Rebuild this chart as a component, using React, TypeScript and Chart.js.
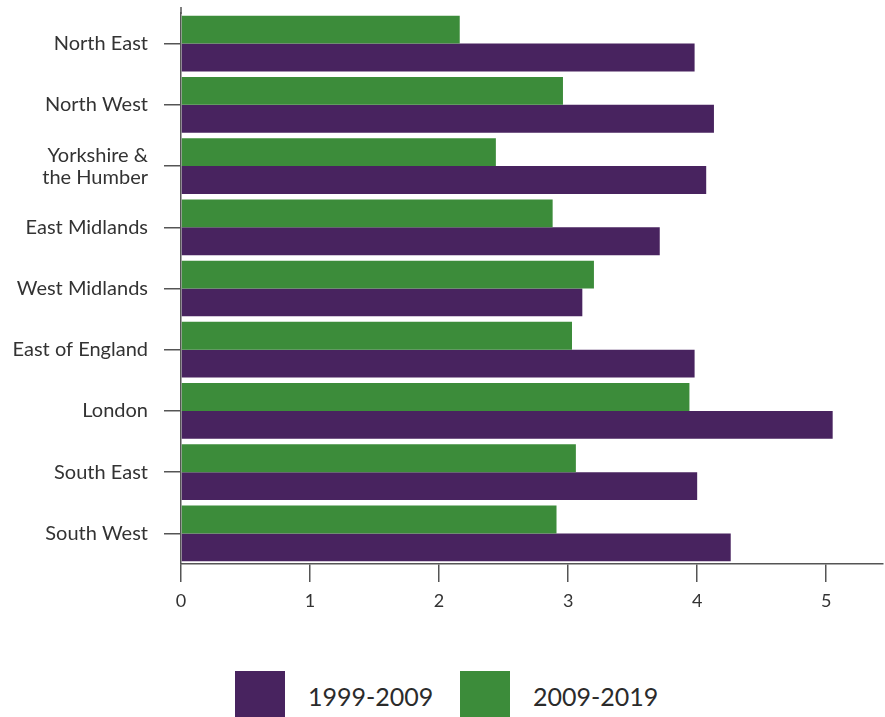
import React, { useEffect, useRef } from "react";
import { Chart, registerables } from "chart.js";

Chart.register(...registerables);

const categories: (string | string[])[] = [
  "North East",
  "North West",
  ["Yorkshire &", "the Humber"],
  "East Midlands",
  "West Midlands",
  "East of England",
  "London",
  "South East",
  "South West",
];

const series2009_2019 = [2.16, 2.96, 2.44, 2.88, 3.2, 3.03, 3.94, 3.06, 2.91];
const series1999_2009 = [3.98, 4.13, 4.07, 3.71, 3.11, 3.98, 5.05, 4.0, 4.26];

const seriesLabels = ["1999-2009", "2009-2019"];
const PURPLE = "#48235f";
const GREEN = "#3c8c3a";
const AXIS = "#555555";
const FONT = "Lato, 'Open Sans', sans-serif";

const axisExtend = {
  id: "axisExtend",
  afterDraw(chart: any) {
    const { ctx, chartArea } = chart;
    ctx.save();
    ctx.strokeStyle = AXIS;
    ctx.lineWidth = 1.5;
    ctx.beginPath();
    ctx.moveTo(chartArea.left, chartArea.top - 6);
    ctx.lineTo(chartArea.left, chartArea.top + 1);
    ctx.stroke();
    ctx.restore();
  },
};

export default function App() {
  const ref = useRef<HTMLCanvasElement | null>(null);

  useEffect(() => {
    if (!ref.current) return;
    const chart = new Chart(ref.current, {
      type: "bar",
      data: {
        labels: categories as any,
        datasets: [
          {
            label: seriesLabels[1],
            data: series2009_2019,
            backgroundColor: GREEN,
            categoryPercentage: 0.91,
            barPercentage: 1,
          },
          {
            label: seriesLabels[0],
            data: series1999_2009,
            backgroundColor: PURPLE,
            categoryPercentage: 0.91,
            barPercentage: 1,
          },
        ],
      },
      options: {
        indexAxis: "y",
        responsive: false,
        animation: false,
        layout: { padding: { top: 13, right: 2, left: 0, bottom: 0 } },
        plugins: {
          legend: { display: false },
          tooltip: { enabled: false },
        },
        scales: {
          x: {
            min: 0,
            max: 5.44,
            ticks: {
              stepSize: 1,
              includeBounds: false,
              color: "#333",
              padding: 8,
              font: { family: FONT, size: 18 },
            },
            grid: {
              display: true,
              drawOnChartArea: false,
              drawTicks: true,
              tickLength: 18,
              color: AXIS,
              lineWidth: 1.5,
            },
            border: { display: true, color: AXIS, width: 1.5 },
            afterFit: (scale: any) => {
              scale.height = 56;
              scale.paddingLeft = 0;
              scale.paddingRight = 0;
            },
          },
          y: {
            ticks: {
              color: "#333",
              padding: 16,
              font: { family: FONT, size: 20, lineHeight: 1.1 },
            },
            grid: {
              display: true,
              offset: false,
              drawOnChartArea: false,
              drawTicks: true,
              tickLength: 17,
              color: AXIS,
              lineWidth: 1.5,
            },
            border: { display: true, color: AXIS, width: 1.5 },
            afterFit: (scale: any) => {
              scale.width = 181;
              scale.paddingTop = 0;
              scale.paddingBottom = 0;
            },
          },
        },
      },
      plugins: [axisExtend],
    });
    return () => chart.destroy();
  }, []);

  const legendItems = [
    { label: seriesLabels[0], color: PURPLE, left: 235 },
    { label: seriesLabels[1], color: GREEN, left: 460 },
  ];

  return (
    <div
      style={{
        position: "fixed",
        left: 0,
        top: 0,
        width: 885,
        height: 717,
        background: "#fff",
        overflow: "hidden",
      }}
    >
      <canvas ref={ref} width={885} height={620} style={{ position: "absolute", left: 0, top: 0 }} />
      {legendItems.map((it) => (
        <div
          key={it.label}
          style={{
            position: "absolute",
            left: it.left,
            top: 671,
            display: "flex",
            alignItems: "center",
            height: 50,
          }}
        >
          <div style={{ width: 50, height: 50, background: it.color }} />
          <span
            style={{
              marginLeft: 23,
              fontFamily: FONT,
              fontSize: 25,
              color: "#2b2b2b",
              lineHeight: "50px",
            }}
          >
            {it.label}
          </span>
        </div>
      ))}
    </div>
  );
}
